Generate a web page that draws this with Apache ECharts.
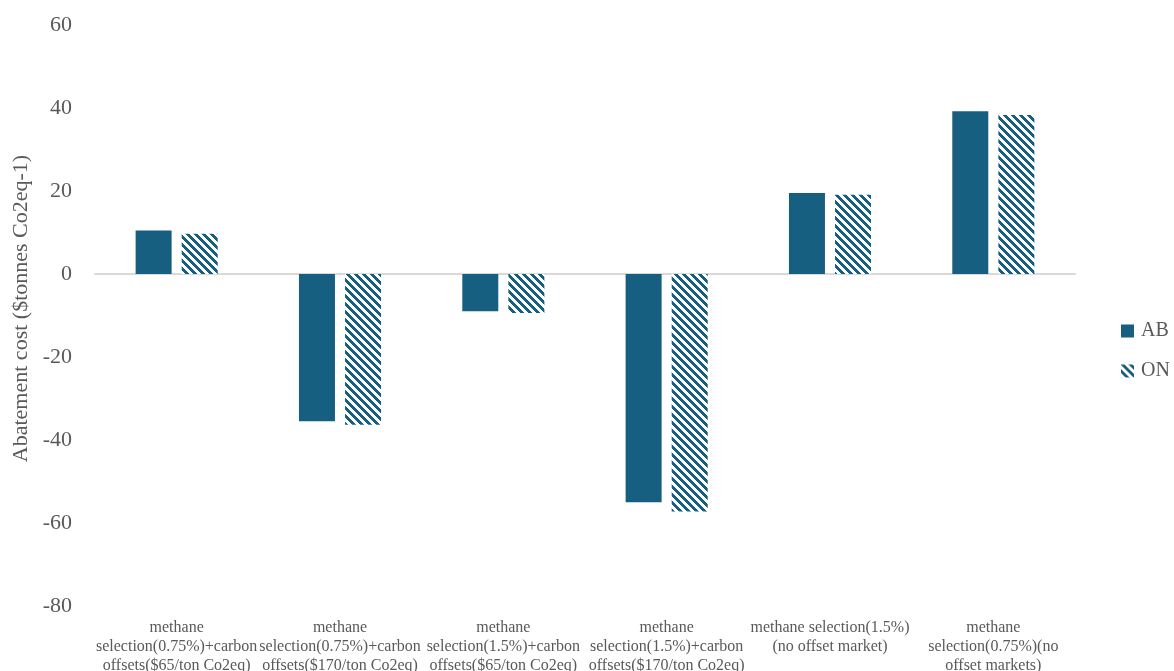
<!DOCTYPE html>
<html>
<head>
<meta charset="utf-8">
<script src="https://cdn.jsdelivr.net/npm/echarts@6/dist/echarts.min.js"></script>
<style>html,body{margin:0;padding:0;background:#fff}#c{width:1174px;height:671px}</style>
</head>
<body>
<div id="c"></div>
<script>
const categories = [
  'methane\nselection(0.75%)+carbon\noffsets($65/ton Co2eq)',
  'methane\nselection(0.75%)+carbon\noffsets($170/ton Co2eq)',
  'methane\nselection(1.5%)+carbon\noffsets($65/ton Co2eq)',
  'methane\nselection(1.5%)+carbon\noffsets($170/ton Co2eq)',
  'methane selection(1.5%)\n(no offset market)',
  'methane\nselection(0.75%)(no\noffset markets)'
];
const seriesNames = ['AB', 'ON'];
const abValues = [10.5, -35.5, -9.0, -55.0, 19.5, 39.2];
const onValues = [9.7, -36.3, -9.4, -57.2, 19.1, 38.3];
const yTicks = { min: -80, max: 60, interval: 20 };
const yAxisTitle = 'Abatement cost ($tonnes Co2eq-1)';

const BLUE = '#175F80';
const font = '"Liberation Serif", "Times New Roman", serif';

function makePattern() {
  const c = document.createElement('canvas');
  c.width = 8; c.height = 8;
  const ctx = c.getContext('2d');
  ctx.fillStyle = '#ffffff';
  ctx.fillRect(0, 0, 8, 8);
  ctx.fillStyle = BLUE;
  for (let r = 0; r < 8; r++) {
    for (let i = 0; i < 4; i++) {
      ctx.fillRect((r + i) % 8, r, 1, 1);
    }
  }
  return c;
}
const pattern = { image: makePattern(), repeat: 'repeat' };

const chart = echarts.init(document.getElementById('c'), null, { renderer: 'canvas' });
chart.setOption({
  animation: false,
  backgroundColor: '#ffffff',
  grid: { left: 95, right: 99, top: 25, bottom: 65, containLabel: false, outerBoundsMode: 'none' },
  legend: {
    orient: 'vertical',
    left: 1116,
    top: 316,
    itemWidth: 13,
    itemHeight: 13,
    itemGap: 20,
    icon: 'rect',
    textStyle: { fontFamily: font, fontSize: 20, color: '#595959', padding: [0, 0, 0, 2] },
    data: seriesNames
  },
  xAxis: {
    type: 'category',
    data: categories,
    axisLine: { onZero: true, lineStyle: { color: '#D9D9D9', width: 2 } },
    axisTick: { show: false },
    axisLabel: {
      interval: 0,
      fontFamily: font,
      fontSize: 16,
      lineHeight: 19,
      color: '#595959',
      margin: 12,
      verticalAlign: 'top'
    },
    position: 'bottom'
  },
  yAxis: {
    type: 'value',
    min: yTicks.min,
    max: yTicks.max,
    interval: yTicks.interval,
    name: yAxisTitle,
    nameLocation: 'middle',
    nameGap: 58,
    nameRotate: 90,
    nameTextStyle: { fontFamily: font, fontSize: 22, color: '#595959', padding: [0, 0, 0, 14] },
    axisLine: { show: false },
    axisTick: { show: false },
    splitLine: { show: false },
    axisLabel: { fontFamily: font, fontSize: 22, color: '#595959', margin: 23 }
  },
  series: [
    {
      name: seriesNames[0],
      type: 'bar',
      data: abValues,
      barWidth: 36,
      barGap: '28%',
      itemStyle: { color: BLUE }
    },
    {
      name: seriesNames[1],
      type: 'bar',
      data: onValues,
      barWidth: 36,
      itemStyle: { color: pattern }
    }
  ]
});
</script>
</body>
</html>
